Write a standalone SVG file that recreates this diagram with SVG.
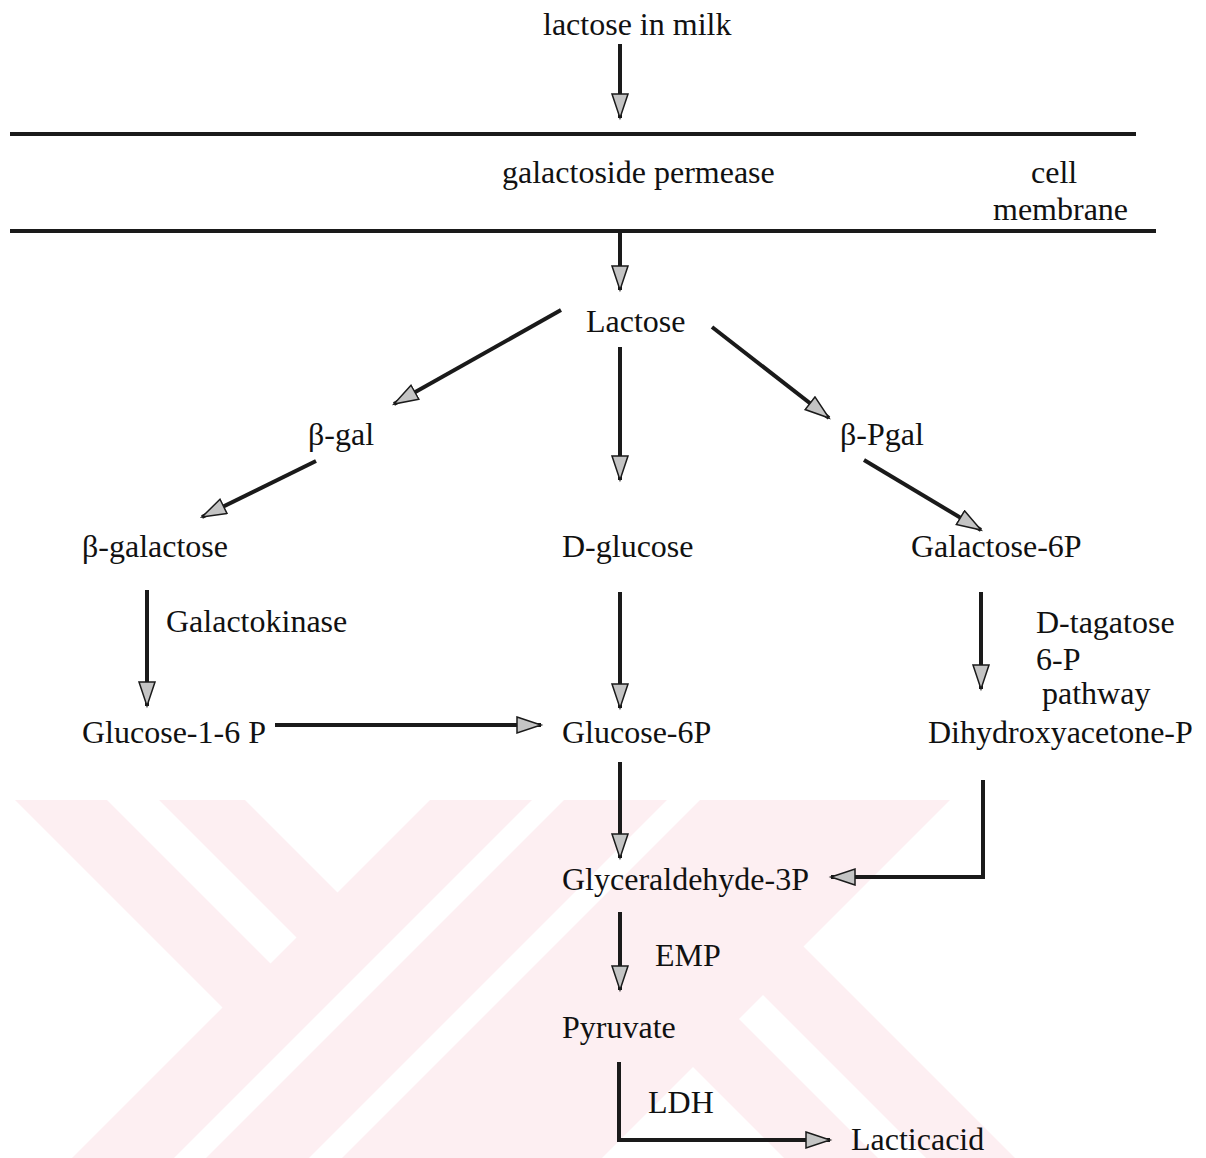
<svg xmlns="http://www.w3.org/2000/svg" width="1206" height="1158" viewBox="0 0 1206 1158">
<style>
.t{font-family:"Liberation Serif","Times New Roman",serif;font-size:32px;fill:#111}
.c{fill:none;stroke:#1a1a1a;stroke-width:4;stroke-linecap:butt}
.m{fill:none;stroke:#1a1a1a;stroke-width:4}
.wm{fill:#fdeff2}
.wh{fill:#ffffff}
</style>
<defs>
<marker id="ah" markerUnits="userSpaceOnUse" markerWidth="28" markerHeight="20" refX="25" refY="9" orient="auto">
<path d="M1,1 L25,9 L1,17 Z" fill="#c4c4c4" stroke="#1a1a1a" stroke-width="1.5" stroke-linejoin="miter"/>
</marker>
</defs>
<rect width="1206" height="1158" fill="#ffffff"/>
<g id="watermark">
<polygon class="wm" points="15,800 950,800 803.5,946.5 1015,1158 72,1158 222.5,1007.5"/>
<polygon class="wh" points="107,800 159,800 296.5,937.5 270.5,963.5"/>
<polygon class="wh" points="245,800 430,800 337.5,892.5"/>
<polygon class="wh" points="532,800 564,800 206,1158 174,1158"/>
<polygon class="wh" points="667,800 700,800 342,1158 309,1158"/>
<polygon class="wh" points="739,1019 763,995 926,1158 878,1158"/>
<polygon class="wh" points="693,1067 784,1158 602,1158"/>
</g>
<g id="membrane">
<line class="m" x1="10" y1="134" x2="1136" y2="134"/>
<line class="m" x1="10" y1="231" x2="1156" y2="231"/>
</g>
<g id="connectors">
<line class="c" x1="620" y1="44" x2="620" y2="118" marker-end="url(#ah)"/>
<line class="c" x1="620" y1="233" x2="620" y2="290" marker-end="url(#ah)"/>
<line class="c" x1="561" y1="310" x2="394" y2="404" marker-end="url(#ah)"/>
<line class="c" x1="620" y1="347" x2="620" y2="480" marker-end="url(#ah)"/>
<line class="c" x1="712" y1="327" x2="829" y2="418" marker-end="url(#ah)"/>
<line class="c" x1="316" y1="461" x2="202" y2="517" marker-end="url(#ah)"/>
<line class="c" x1="864" y1="460" x2="981" y2="530" marker-end="url(#ah)"/>
<line class="c" x1="147" y1="590" x2="147" y2="706" marker-end="url(#ah)"/>
<line class="c" x1="620" y1="592" x2="620" y2="708" marker-end="url(#ah)"/>
<line class="c" x1="981" y1="592" x2="981" y2="689" marker-end="url(#ah)"/>
<line class="c" x1="275" y1="725" x2="541" y2="725" marker-end="url(#ah)"/>
<line class="c" x1="620" y1="762" x2="620" y2="858" marker-end="url(#ah)"/>
<polyline class="c" points="983,780 983,877 831,877" marker-end="url(#ah)"/>
<line class="c" x1="620" y1="912" x2="620" y2="990" marker-end="url(#ah)"/>
<polyline class="c" points="619,1062 619,1140 830,1140" marker-end="url(#ah)"/>
</g>
<g id="n-lactose-milk"><text class="t" x="543" y="35">lactose in milk</text></g>
<g id="n-permease"><text class="t" x="502" y="183">galactoside permease</text></g>
<g id="n-cell-membrane"><text class="t" x="1031" y="183">cell</text><text class="t" x="993" y="220">membrane</text></g>
<g id="n-lactose"><text class="t" x="586" y="332">Lactose</text></g>
<g id="n-bgal"><text class="t" x="308" y="445">β-gal</text></g>
<g id="n-bpgal"><text class="t" x="840" y="445">β-Pgal</text></g>
<g id="n-bgalactose"><text class="t" x="82" y="557">β-galactose</text></g>
<g id="n-dglucose"><text class="t" x="562" y="557">D-glucose</text></g>
<g id="n-galactose6p"><text class="t" x="911" y="557">Galactose-6P</text></g>
<g id="n-galactokinase"><text class="t" x="166" y="632">Galactokinase</text></g>
<g id="n-tagatose"><text class="t" x="1036" y="633">D-tagatose</text><text class="t" x="1036" y="670">6-P</text><text class="t" x="1042" y="704">pathway</text></g>
<g id="n-glucose16p"><text class="t" x="82" y="743">Glucose-1-6 P</text></g>
<g id="n-glucose6p"><text class="t" x="562" y="743">Glucose-6P</text></g>
<g id="n-dhap"><text class="t" x="928" y="743">Dihydroxyacetone-P</text></g>
<g id="n-g3p"><text class="t" x="562" y="890">Glyceraldehyde-3P</text></g>
<g id="n-emp"><text class="t" x="655" y="966">EMP</text></g>
<g id="n-pyruvate"><text class="t" x="562" y="1038">Pyruvate</text></g>
<g id="n-ldh"><text class="t" x="648" y="1113">LDH</text></g>
<g id="n-lacticacid"><text class="t" x="851" y="1150">Lacticacid</text></g>
</svg>
